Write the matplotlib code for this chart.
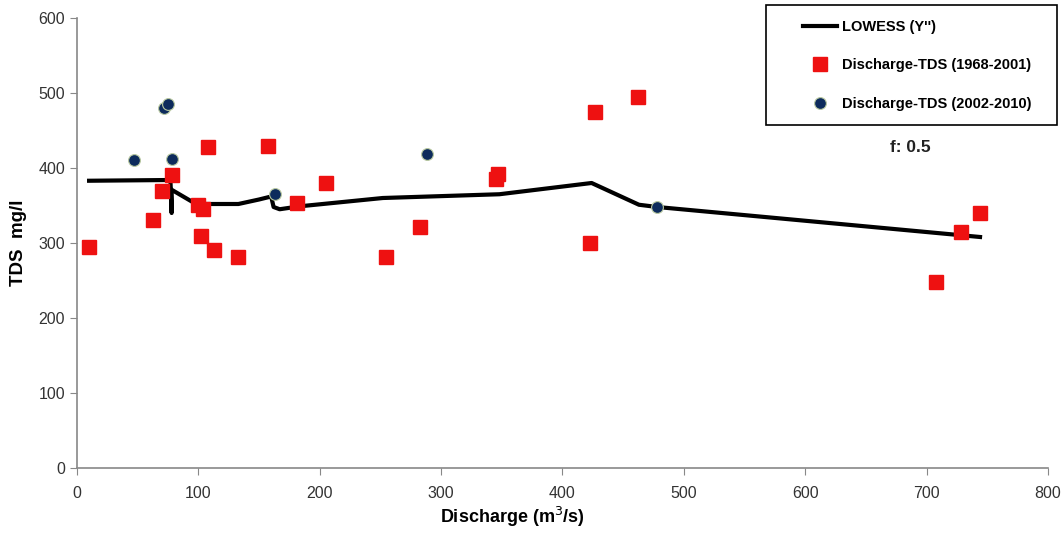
import matplotlib
matplotlib.use("Agg")
import matplotlib.pyplot as plt
from matplotlib.patches import Rectangle

# ====================== DATA ======================
# Discharge-TDS (1968-2001)
q_old = [10, 63, 70, 78, 100, 104, 102, 108, 113, 133, 157, 181, 205,
         255, 283, 345, 347, 423, 427, 462, 708, 728, 744]
tds_old = [295, 331, 369, 391, 351, 345, 309, 428, 291, 281, 429, 353, 380,
           281, 321, 385, 392, 300, 475, 495, 248, 315, 340]

# Discharge-TDS (2002-2010)
q_new = [47, 72, 75, 78, 163, 288, 478]
tds_new = [411, 480, 485, 412, 365, 419, 348]

# LOWESS (Y'') fitted curve, f = 0.5
q_fit = [10, 77, 78, 78, 97, 107, 133, 150, 160, 162, 167, 184, 252, 348,
         424, 463, 478, 744]
tds_fit = [383, 384, 340, 371, 353, 352, 352, 358, 362, 348, 345, 349, 360,
           365, 380, 351, 348, 308]

xticks = [0, 100, 200, 300, 400, 500, 600, 700, 800]
yticks = [0, 100, 200, 300, 400, 500, 600]

plt.rcParams['font.family'] = ['Liberation Sans', 'DejaVu Sans']

# ====================== PLOT ======================
fig = plt.figure(figsize=(10.63, 5.34), dpi=100)
ax = fig.add_axes([0.0724, 0.1236, 0.9135, 0.8427])

ax.plot(q_fit, tds_fit, color='black', lw=3, solid_joinstyle='round',
        label="LOWESS (Y'')", zorder=2)
ax.plot(q_old, tds_old, ls='none', marker='s', ms=9.5, color='#ee1111',
        mec='#ee1111', label='Discharge-TDS (1968-2001)', zorder=3)
ax.plot(q_new, tds_new, ls='none', marker='o', ms=8.5, color='#0d2b5c',
        mec='#b8c8a0', mew=0.8, label='Discharge-TDS (2002-2010)', zorder=4)

ax.set_xlim(0, 800)
ax.set_ylim(0, 600)
ax.set_xticks(xticks)
ax.set_yticks(yticks)

for s in ['top', 'right']:
    ax.spines[s].set_visible(False)
for s in ['left', 'bottom']:
    ax.spines[s].set_color('#888888')
    ax.spines[s].set_linewidth(1.2)
ax.tick_params(direction='out', length=5, color='#888888', labelsize=11.5,
               labelcolor='#333333')
ax.tick_params(axis='x', pad=8)

ax.set_xlabel('Discharge (m$^3$/s)', fontsize=13, fontweight='bold')
ax.xaxis.set_label_coords(0.448, -0.082)
ax.set_ylabel('TDS  mg/l', fontsize=13.5, fontweight='bold', labelpad=8)

# legend frame drawn on its own, ~766..1057 px across, 5..125 px down
fig.patches.append(Rectangle((0.7206, 0.766), 0.2738, 0.2247,
                             transform=fig.transFigure, fill=False,
                             edgecolor='black', lw=1.2, zorder=5))
leg = fig.legend(loc='upper left', bbox_to_anchor=(0.7554, 0.963),
                 frameon=False, prop={'weight': 'bold', 'size': 10.5},
                 handlelength=2.35, labelspacing=1.69, borderpad=0,
                 handletextpad=0.35, borderaxespad=0)

ax.text(0.858, 0.713, 'f: 0.5', transform=ax.transAxes, fontsize=12.5,
        fontweight='bold', color='#222222', ha='center', va='center')

fig.savefig('out.png', dpi=100)
